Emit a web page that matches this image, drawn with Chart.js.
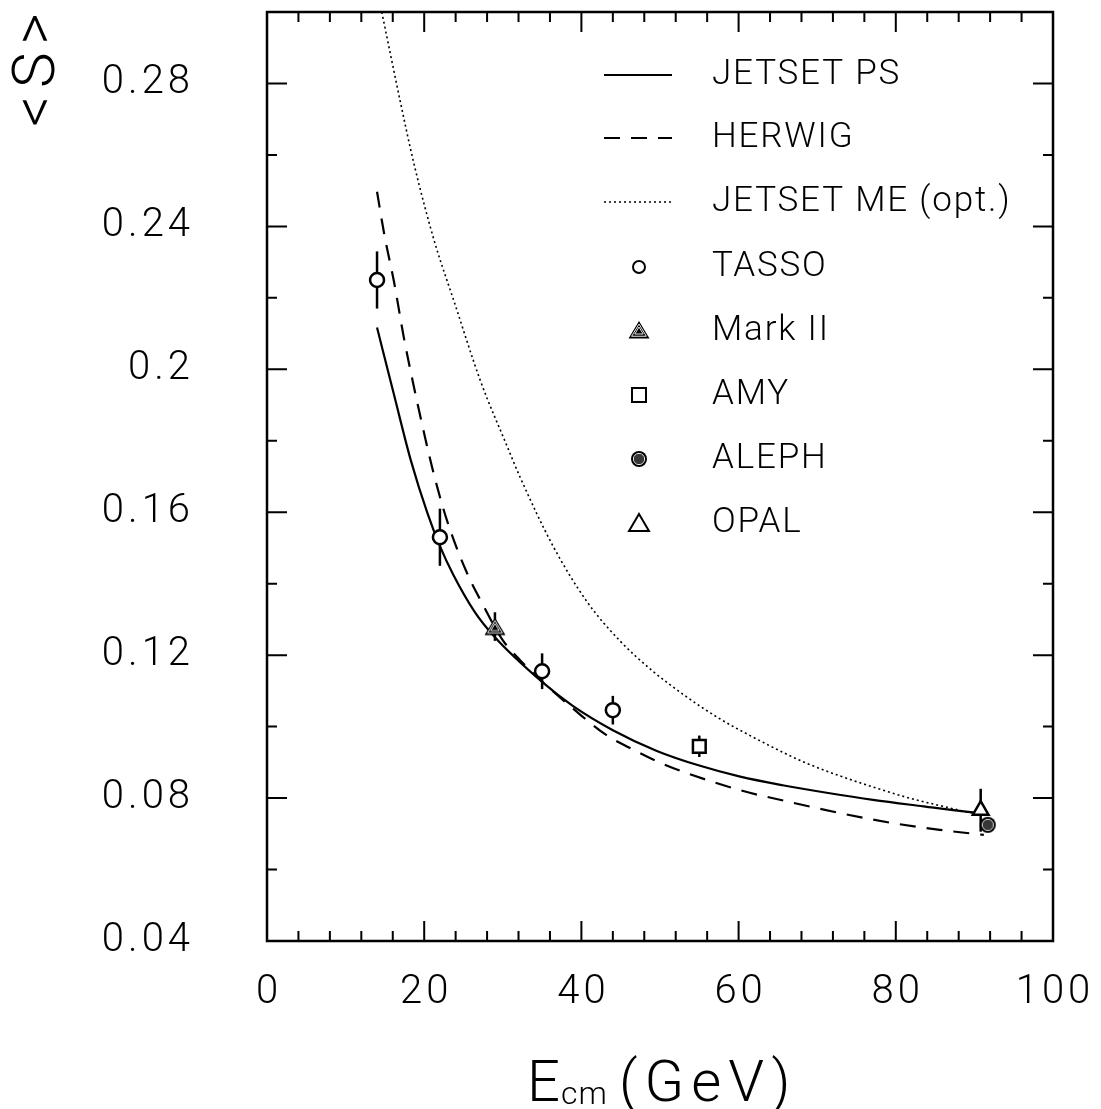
<!DOCTYPE html>
<html>
<head>
<meta charset="utf-8">
<script src="https://cdn.jsdelivr.net/npm/chart.js@4/dist/chart.umd.min.js"></script>
<style>
  html, body { margin: 0; padding: 0; background: #fff; }
  canvas { display: block; }
</style>
</head>
<body>
<canvas id="c" width="1101" height="1109"></canvas>
<script>
// Mean sphericity <S> versus centre-of-mass energy

// Model curves
const jetsetPsE = [14, 16.2, 18.3, 20.4, 22, 23.7, 26.4, 29, 35, 38.9, 44, 49.6, 55, 60.2, 65.6, 71.2, 77.1, 83.5, 89.8, 91.2];
const jetsetPsS = [0.2117, 0.1925, 0.1745, 0.1598, 0.1505, 0.1425, 0.1322, 0.1250, 0.1125, 0.1058, 0.0990, 0.0932, 0.0891, 0.0860, 0.0836, 0.0815, 0.0795, 0.0777, 0.0760, 0.0757];

const herwigE = [14, 14.9, 16.2, 17.4, 18.7, 20.0, 21.3, 23.0, 25.5, 27.5, 29.9, 32.2, 40.2, 43.2, 46.2, 49.6, 52.9, 60.2, 66.5, 72.9, 79.3, 85.6, 91.2];
const herwigS = [0.2497, 0.238, 0.224, 0.209, 0.195, 0.182, 0.170, 0.157, 0.1427, 0.134, 0.1245, 0.1186, 0.1027, 0.0976, 0.0940, 0.0903, 0.0874, 0.0822, 0.0789, 0.0758, 0.0731, 0.0711, 0.0697];

const jetsetMeE = [14.6, 17.0, 18.7, 21.3, 23.8, 27.2, 30.6, 32.2, 36.4, 40.7, 44.9, 49.1, 53.4, 57.6, 61.8, 66.2, 68.7, 72.9, 77.1, 81.4, 85.6, 89.8, 91.2];
const jetsetMeS = [0.300, 0.2745, 0.2575, 0.2358, 0.2190, 0.1965, 0.1782, 0.1698, 0.1505, 0.1350, 0.1240, 0.1155, 0.1083, 0.1022, 0.0971, 0.0922, 0.0897, 0.0862, 0.0831, 0.0802, 0.0779, 0.0758, 0.0753];

// Measurements: energy, <S>, error
const tassoE = [14, 22, 35, 44];
const tassoS = [0.225, 0.153, 0.1155, 0.1046];
const tassoErr = [0.008, 0.008, 0.005, 0.004];

const markIIE = [29];
const markIIS = [0.128];
const markIIErr = [0.004];

const amyE = [55];
const amyS = [0.0945];
const amyErr = [0.003];

const alephE = [91.7];
const alephS = [0.0725];
const alephErr = [0.001];

const opalE = [90.8];
const opalS = [0.0766];
const opalErr = [0.006];

// Axis ticks
const xTickLabels = [0, 20, 40, 60, 80, 100];
const yTickLabels = [0.04, 0.08, 0.12, 0.16, 0.2, 0.24, 0.28];

const legendLabels = ['JETSET PS', 'HERWIG', 'JETSET ME (opt.)', 'TASSO', 'Mark II', 'AMY', 'ALEPH', 'OPAL'];

const FONT = 'Roboto, "DejaVu Sans", sans-serif';
const INK = '#000';

function pts(xs, ys) { return xs.map((x, i) => ({ x: x, y: ys[i] })); }

// Hatched marker glyphs
function markIIGlyph() {
  const c = document.createElement('canvas');
  c.width = 24; c.height = 22;
  const g = c.getContext('2d');
  const tri = (s) => {
    g.beginPath();
    g.moveTo(12, 12 - 10 * s);
    g.lineTo(12 + 10.5 * s, 12 + 7.5 * s);
    g.lineTo(12 - 10.5 * s, 12 + 7.5 * s);
    g.closePath();
  };
  tri(1); g.fillStyle = '#000'; g.fill();
  g.strokeStyle = '#fff'; g.lineWidth = 0.9;
  tri(0.7); g.stroke();
  tri(0.4); g.stroke();
  return c;
}
function alephGlyph() {
  const c = document.createElement('canvas');
  c.width = 20; c.height = 20;
  const g = c.getContext('2d');
  g.fillStyle = '#000';
  g.beginPath(); g.arc(10, 10, 8, 0, Math.PI * 2); g.fill();
  g.strokeStyle = '#fff'; g.lineWidth = 0.9;
  g.beginPath(); g.arc(10, 10, 5.6, 0, Math.PI * 2); g.stroke();
  g.save();
  g.beginPath(); g.arc(10, 10, 5, 0, Math.PI * 2); g.clip();
  g.strokeStyle = '#bbb'; g.lineWidth = 0.6;
  for (let x = 6; x <= 14; x += 2) {
    g.beginPath(); g.moveTo(x, 4); g.lineTo(x, 16); g.stroke();
  }
  g.restore();
  return c;
}
const markIIImg = markIIGlyph();
const alephImg = alephGlyph();

const experiments = [
  { e: tassoE, s: tassoS, err: tassoErr },
  { e: markIIE, s: markIIS, err: markIIErr },
  { e: amyE, s: amyS, err: amyErr },
  { e: alephE, s: alephS, err: alephErr },
  { e: opalE, s: opalS, err: opalErr }
];

const errorBars = {
  id: 'errorBars',
  beforeDatasetsDraw(chart) {
    const { ctx, scales: { x, y } } = chart;
    ctx.save();
    ctx.strokeStyle = INK;
    ctx.lineWidth = 2.5;
    experiments.forEach(ex => {
      ex.e.forEach((e, i) => {
        const px = x.getPixelForValue(e);
        ctx.beginPath();
        ctx.moveTo(px, y.getPixelForValue(ex.s[i] + ex.err[i]));
        ctx.lineTo(px, y.getPixelForValue(ex.s[i] - ex.err[i]));
        ctx.stroke();
      });
    });
    ctx.restore();
  }
};

// Frame, inward ticks on all four sides, tick labels, axis titles and legend
const frame = {
  id: 'frame',
  afterDraw(chart) {
    const { ctx, chartArea: a, scales: { x, y } } = chart;
    ctx.save();
    ctx.strokeStyle = INK;
    ctx.lineWidth = 2.5;
    ctx.strokeRect(a.left, a.top, a.right - a.left, a.bottom - a.top);
    ctx.lineWidth = 2;
    x.ticks.forEach(t => {
      const px = x.getPixelForValue(t.value);
      const len = xTickLabels.some(v => Math.abs(v - t.value) < 1e-6) ? 20 : 10;
      ctx.beginPath();
      ctx.moveTo(px, a.bottom); ctx.lineTo(px, a.bottom - len);
      ctx.moveTo(px, a.top); ctx.lineTo(px, a.top + len);
      ctx.stroke();
    });
    y.ticks.forEach(t => {
      const py = y.getPixelForValue(t.value);
      const len = yTickLabels.some(v => Math.abs(v - t.value) < 1e-6) ? 20 : 10;
      ctx.beginPath();
      ctx.moveTo(a.left, py); ctx.lineTo(a.left + len, py);
      ctx.moveTo(a.right, py); ctx.lineTo(a.right - len, py);
      ctx.stroke();
    });

    // tick labels
    ctx.fillStyle = INK;
    ctx.font = '300 40px ' + FONT;
    ctx.letterSpacing = '4px';
    ctx.textAlign = 'right';
    ctx.textBaseline = 'middle';
    yTickLabels.forEach(v => ctx.fillText(String(v), a.left - 73, y.getPixelForValue(v)));
    ctx.textAlign = 'center';
    ctx.textBaseline = 'alphabetic';
    xTickLabels.forEach(v => ctx.fillText(String(v), x.getPixelForValue(v) + 2, a.bottom + 62));

    // x-axis title
    ctx.textAlign = 'left';
    ctx.letterSpacing = '3px';
    ctx.font = '300 58px ' + FONT;
    ctx.fillText('E', 527, 1101);
    ctx.font = '300 32px ' + FONT;
    ctx.letterSpacing = '1px';
    ctx.fillText('cm', 561, 1104);
    ctx.font = '300 58px ' + FONT;
    ctx.letterSpacing = '7px';
    ctx.fillText('(GeV)', 619, 1101);

    // y-axis title, rotated
    ctx.save();
    ctx.translate(54, 70);
    ctx.rotate(-Math.PI / 2);
    ctx.textAlign = 'center';
    ctx.letterSpacing = '8px';
    ctx.font = '300 60px ' + FONT;
    ctx.fillText('<S>', 4, 0);
    ctx.restore();

    // legend
    const rows = [75, 138, 202, 267, 331, 395, 459, 523];
    const x0 = 604, x1 = 672, xm = 639, xt = 712;
    ctx.font = '300 35px ' + FONT;
    ctx.letterSpacing = '1.8px';
    ctx.textBaseline = 'middle';
    ctx.textAlign = 'left';
    rows.forEach((ry, i) => {
      ctx.lineWidth = 2;
      ctx.strokeStyle = INK;
      if (i < 3) {
        ctx.setLineDash(i === 0 ? [] : i === 1 ? [16, 11] : [2, 3]);
        ctx.lineWidth = i === 2 ? 1.5 : 2;
        ctx.beginPath(); ctx.moveTo(x0, ry); ctx.lineTo(x1, ry); ctx.stroke();
        ctx.setLineDash([]);
      } else if (i === 3) {
        ctx.beginPath(); ctx.arc(xm, ry, 6, 0, Math.PI * 2);
        ctx.fillStyle = '#fff'; ctx.fill(); ctx.stroke();
      } else if (i === 4) {
        ctx.drawImage(markIIImg, xm - 12, ry - 12);
      } else if (i === 5) {
        ctx.fillStyle = '#fff';
        ctx.fillRect(xm - 7, ry - 7, 14, 14);
        ctx.strokeRect(xm - 7, ry - 7, 14, 14);
      } else if (i === 6) {
        ctx.drawImage(alephImg, xm - 10, ry - 10);
      } else {
        ctx.beginPath();
        ctx.moveTo(xm, ry - 9); ctx.lineTo(xm + 10, ry + 8); ctx.lineTo(xm - 10, ry + 8);
        ctx.closePath();
        ctx.fillStyle = '#fff'; ctx.fill(); ctx.stroke();
      }
      ctx.fillStyle = INK;
      ctx.fillText(legendLabels[i], xt, ry);
    });
    ctx.restore();
  }
};

const lineStyle = { showLine: true, pointRadius: 0, borderColor: INK, fill: false, cubicInterpolationMode: 'monotone', order: 2 };

new Chart(document.getElementById('c'), {
  type: 'scatter',
  data: {
    datasets: [
      { label: legendLabels[3], data: pts(tassoE, tassoS), pointStyle: 'circle', pointRadius: 7,
        backgroundColor: '#fff', borderColor: INK, borderWidth: 2.5, order: 0 },
      { label: legendLabels[4], data: pts(markIIE, markIIS), pointStyle: markIIImg, order: 0 },
      { label: legendLabels[5], data: pts(amyE, amyS), pointStyle: 'rect', pointRadius: 9,
        backgroundColor: '#fff', borderColor: INK, borderWidth: 2.5, order: 0 },
      { label: legendLabels[6], data: pts(alephE, alephS), pointStyle: alephImg, order: 0 },
      { label: legendLabels[7], data: pts(opalE, opalS), pointStyle: 'triangle', pointRadius: 9,
        backgroundColor: '#fff', borderColor: INK, borderWidth: 2.5, order: 0 },
      Object.assign({ label: legendLabels[0], data: pts(jetsetPsE, jetsetPsS), borderWidth: 2.2 }, lineStyle),
      Object.assign({ label: legendLabels[1], data: pts(herwigE, herwigS), borderWidth: 2.2, borderDash: [16, 11] }, lineStyle),
      Object.assign({ label: legendLabels[2], data: pts(jetsetMeE, jetsetMeS), borderWidth: 1.6, borderDash: [2, 3] }, lineStyle)
    ]
  },
  options: {
    responsive: false,
    animation: false,
    devicePixelRatio: 1,
    events: [],
    layout: { padding: { left: 0, right: 48, top: 12, bottom: 0 } },
    plugins: { legend: { display: false }, tooltip: { enabled: false } },
    scales: {
      x: {
        type: 'linear', min: 0, max: 100,
        grid: { display: false, drawTicks: false },
        border: { display: false },
        afterFit(s) { s.height = 168; },
        ticks: { stepSize: 4, autoSkip: false, display: false, padding: 0 }
      },
      y: {
        type: 'linear', min: 0.04, max: 0.30,
        grid: { display: false, drawTicks: false },
        border: { display: false },
        afterFit(s) { s.width = 267; },
        ticks: { stepSize: 0.02, autoSkip: false, display: false, padding: 0 }
      }
    }
  },
  plugins: [errorBars, frame]
});
</script>
</body>
</html>
